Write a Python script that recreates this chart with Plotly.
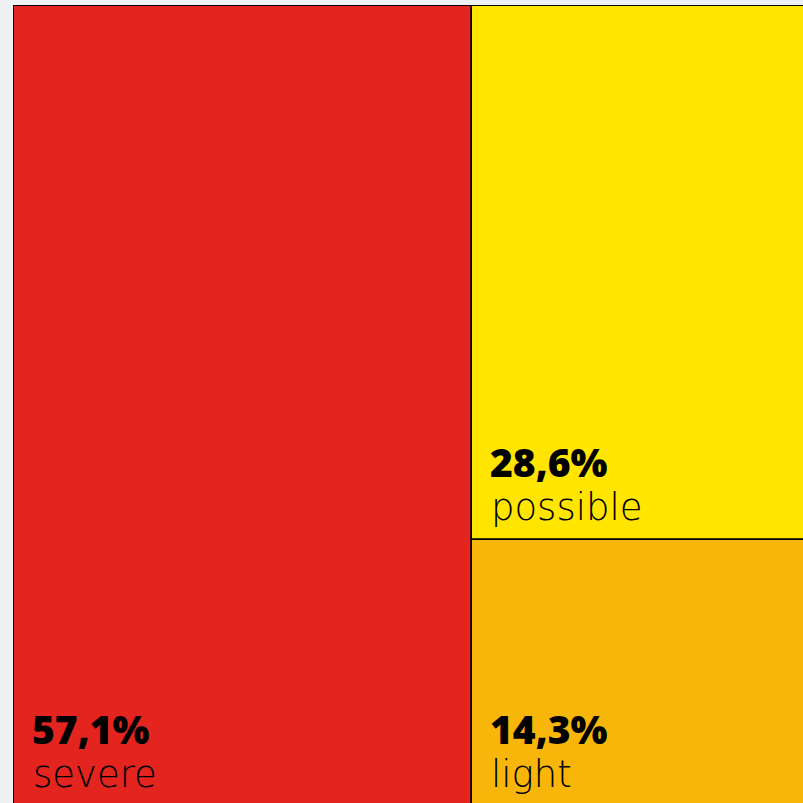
import plotly.graph_objects as go

categories = ["severe", "possible", "light"]
shares = [57.1, 28.6, 14.3]
pct_labels = ["57,1%", "28,6%", "14,3%"]
colors = ["#e3241f", "#ffe500", "#f9b60a"]

# layout geometry (data units: full chart is 100 x 100)
W, H = 803, 803
ml, mt = 13, 5          # one pixel of padding so the outer outline is visible
chart_left_px, chart_top_px = 14, 6
full_w_px, full_h_px = 802, 801
x_unit = full_w_px / 100.0
y_unit = full_h_px / 100.0

left_w = shares[0]
right_total = shares[1] + shares[2]
light_h = shares[2] / right_total * 100
poss_h = shares[1] / right_total * 100

rects = {
    "severe": dict(x0=0, w=left_w, base=0, h=100),
    "possible": dict(x0=left_w, w=100 - left_w, base=light_h, h=poss_h),
    "light": dict(x0=left_w, w=100 - left_w, base=0, h=light_h),
}

fig = go.Figure()
for cat, col in zip(categories, colors):
    r = rects[cat]
    fig.add_trace(go.Bar(
        x=[r["x0"] + r["w"] / 2], y=[r["h"]], base=[r["base"]], width=[r["w"]],
        marker=dict(color=col, line=dict(color="#000000", width=1.5)),
        hoverinfo="skip", showlegend=False,
    ))

annotations = []
for cat, lab in zip(categories, pct_labels):
    r = rects[cat]
    annotations.append(dict(
        x=r["x0"], y=r["base"] + 79 / y_unit, xref="x", yref="y",
        xanchor="left", yanchor="middle", xshift=16, showarrow=False,
        text=lab, font=dict(family="Open Sans", size=39, color="#000000", weight=800),
    ))
    annotations.append(dict(
        x=r["x0"], y=r["base"] + 33 / y_unit, xref="x", yref="y",
        xanchor="left", yanchor="middle", xshift=17, showarrow=False,
        text=cat, font=dict(family="DejaVu Sans", size=37, color="#000000", weight=200),
    ))

x_start = -(chart_left_px - ml) / x_unit
x_end = x_start + (W - ml) / x_unit
y_top = 100 + (chart_top_px - mt) / y_unit
y_bottom = y_top - (H - mt) / y_unit
fig.update_layout(
    width=W, height=H,
    margin=dict(l=ml, r=0, t=mt, b=0),
    paper_bgcolor="#eef0f3", plot_bgcolor="#eef0f3",
    barmode="overlay", bargap=0,
    xaxis=dict(range=[x_start, x_end], visible=False, fixedrange=True),
    yaxis=dict(range=[y_bottom, y_top], visible=False, fixedrange=True),
    annotations=annotations,
)

fig.write_html(
    "out.html",
    config={"displayModeBar": False},
    post_script="document.body.style.margin='0';document.body.style.overflow='hidden';",
)
